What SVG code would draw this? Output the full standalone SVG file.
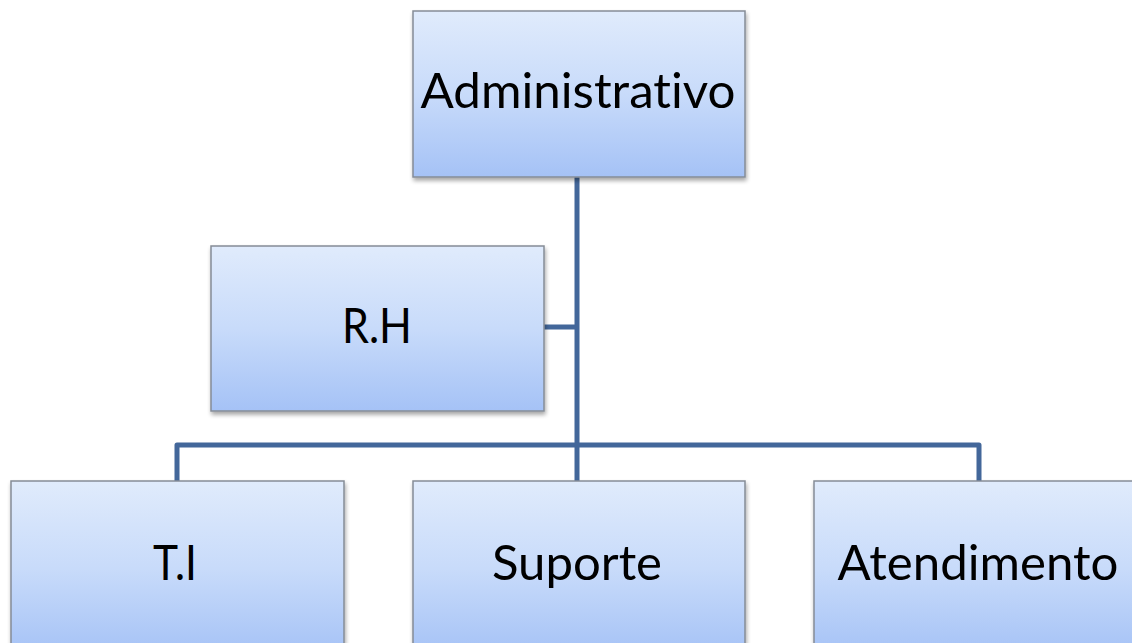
<svg xmlns="http://www.w3.org/2000/svg" width="1132" height="643" viewBox="0 0 1132 643">
  <defs>
    <linearGradient id="boxFill" x1="0" y1="0" x2="0" y2="1">
      <stop offset="0" stop-color="#e0ebfc"/>
      <stop offset="0.5" stop-color="#c8dbfa"/>
      <stop offset="1" stop-color="#a5c2f6"/>
    </linearGradient>
    <filter id="shadow" x="-5%" y="-5%" width="115%" height="115%">
      <feGaussianBlur in="SourceAlpha" stdDeviation="2"/>
      <feOffset dx="1" dy="3" result="b"/>
      <feComponentTransfer><feFuncA type="linear" slope="0.35"/></feComponentTransfer>
      <feMerge><feMergeNode/><feMergeNode in="SourceGraphic"/></feMerge>
    </filter>
  </defs>
  <style>
    .box { fill: url(#boxFill); stroke: #858c96; stroke-width: 1.5; filter: url(#shadow); }
    .label { font-family: Lato, "Open Sans", "Liberation Sans", sans-serif; font-size: 48px; fill: #000; text-anchor: middle; font-variant-ligatures: none; font-feature-settings: "liga" 0, "clig" 0; }
    .link { fill: none; stroke: #43679a; stroke-width: 5; stroke-linejoin: round; }
  </style>
  <rect width="1132" height="643" fill="#fff"/>

  <g id="connectors">
    <path class="link" d="M577 177 V445"/>
    <path class="link" d="M544 327 H577"/>
    <path class="link" d="M177 481 V445 H979 V481"/>
    <path class="link" d="M577 445 V481"/>
  </g>

  <g id="administrativo">
    <rect class="box" x="413" y="11" width="332" height="166"/>
    <text class="label" x="578" y="108" textLength="315" lengthAdjust="spacingAndGlyphs">Administrativo</text>
  </g>
  <g id="rh">
    <rect class="box" x="211" y="246" width="333" height="165"/>
    <text class="label" x="377" y="343" textLength="70" lengthAdjust="spacingAndGlyphs">R.H</text>
  </g>
  <g id="ti">
    <rect class="box" x="11" y="481" width="333" height="175"/>
    <text class="label" x="175" y="580" textLength="44" lengthAdjust="spacingAndGlyphs">T.I</text>
  </g>
  <g id="suporte">
    <rect class="box" x="413" y="481" width="332" height="175"/>
    <text class="label" x="577" y="580" textLength="170" lengthAdjust="spacingAndGlyphs">Suporte</text>
  </g>
  <g id="atendimento">
    <rect class="box" x="814" y="481" width="332" height="175"/>
    <text class="label" x="978" y="580" textLength="281" lengthAdjust="spacingAndGlyphs">Atendimento</text>
  </g>
</svg>
